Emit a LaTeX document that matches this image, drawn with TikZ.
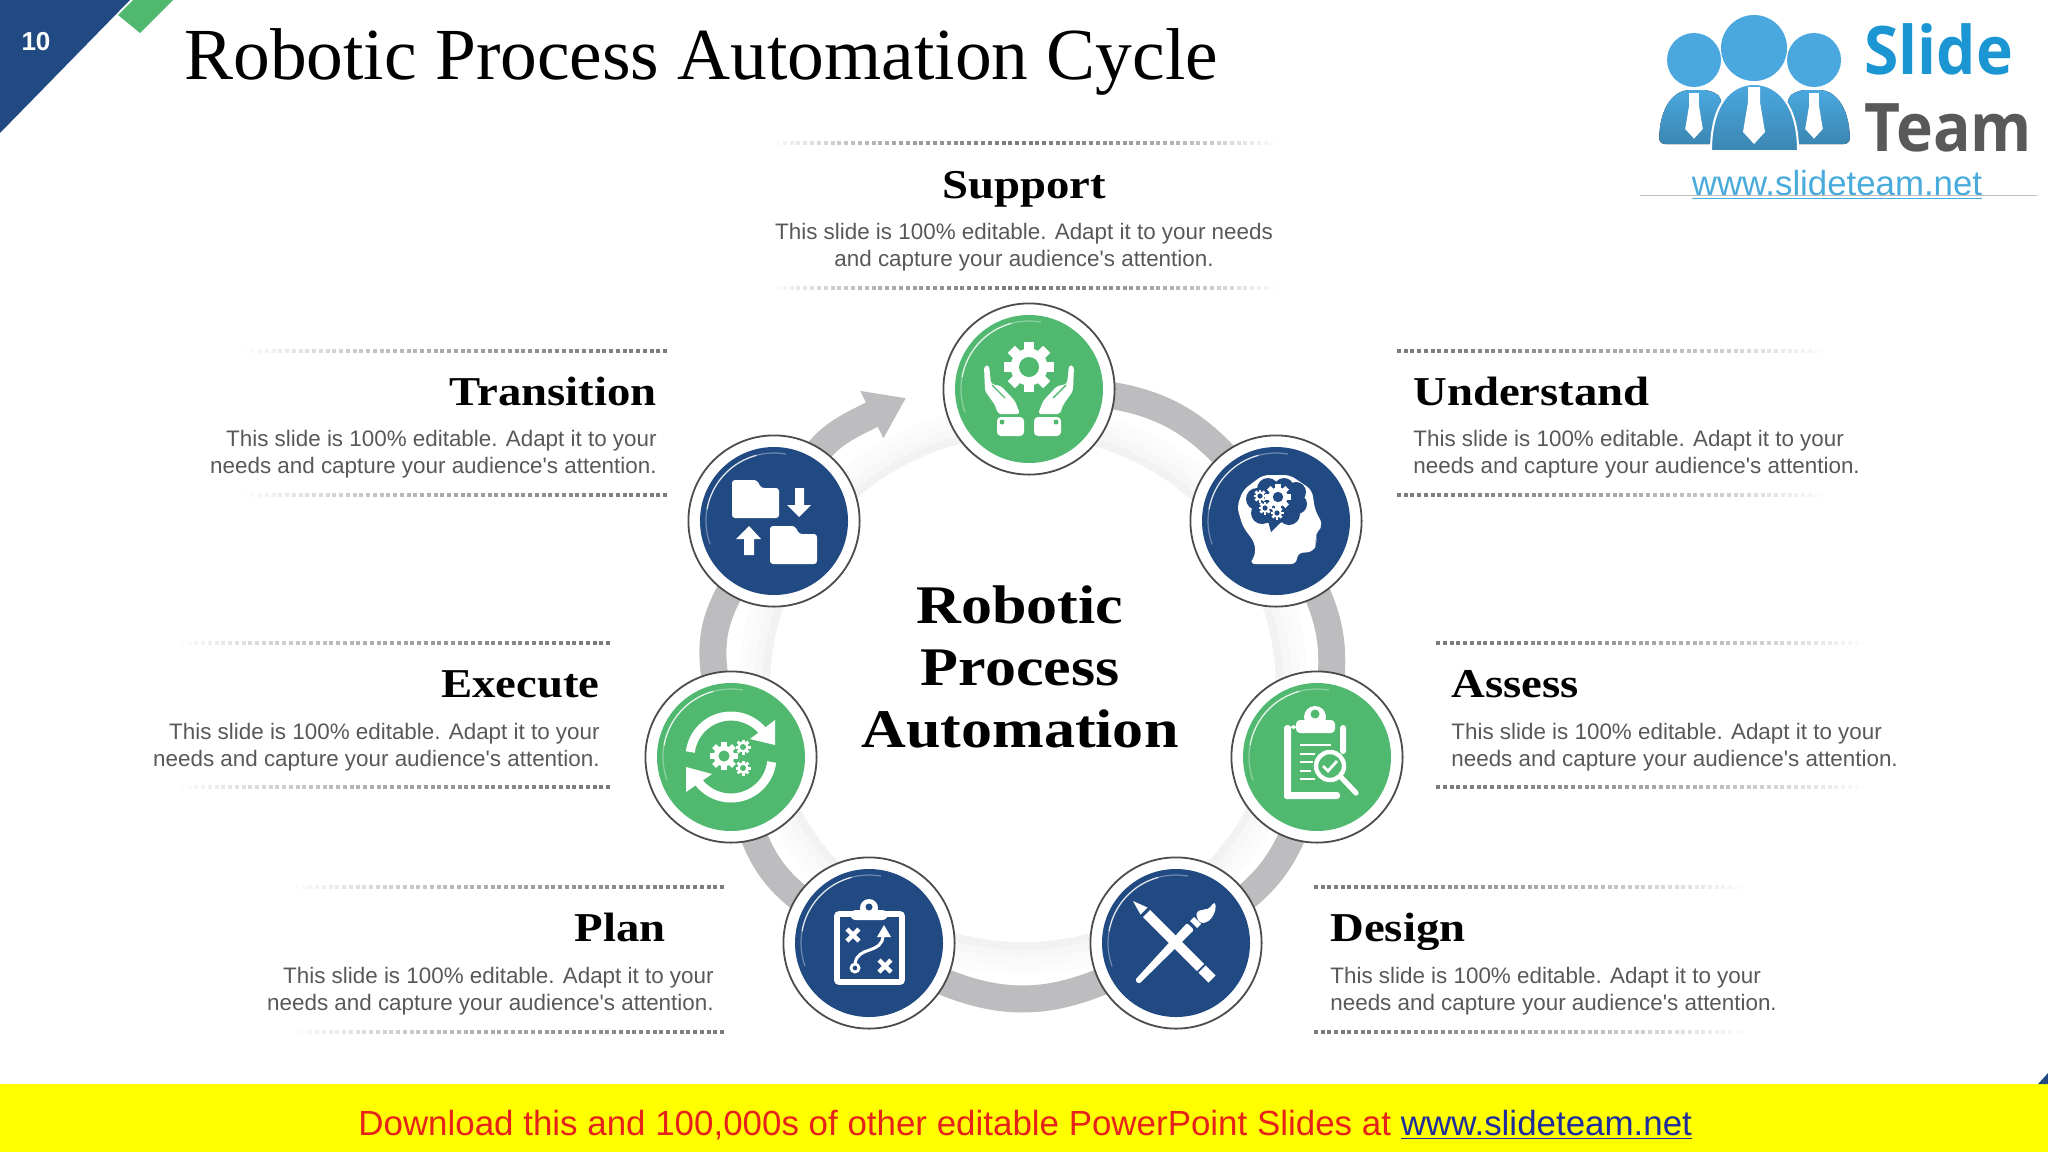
\documentclass[tikz,border=0pt]{standalone}
\usepackage{fontspec}
\setmainfont{Liberation Sans}
\newfontfamily\titlefont{Liberation Serif}
\newfontfamily\headfont[FakeStretch=1.14]{Liberation Serif}
\newfontfamily\logofont[FakeStretch=0.93]{Open Sans}
\usetikzlibrary{arrows.meta,backgrounds}
\definecolor{discgreen}{HTML}{50B96F}
\definecolor{discblue}{HTML}{224A82}
\definecolor{ringgray}{HTML}{BDBDBF}
\definecolor{dotgray}{HTML}{7C7C7C}
\definecolor{blurbgray}{HTML}{58585A}
\definecolor{logoblue}{HTML}{1B96D3}
\definecolor{logosky}{HTML}{4AA8DF}
\definecolor{footyellow}{HTML}{FFFF00}
\tikzset{
  stepnode/.style={circle,draw=black!70,line width=0.9pt,fill=white,minimum size=85.6pt,inner sep=0pt},
  stepdisc/.style={circle,minimum size=74pt,inner sep=0pt},
  ringline/.style={draw=ringgray,line width=13.5pt},
  gloss/.style={draw=white,line width=0.6pt},
  headleft/.style={anchor=base west,font=\headfont\bfseries\fontsize{20.5}{24}\selectfont,inner sep=0pt},
  headright/.style={anchor=base east,font=\headfont\bfseries\fontsize{20.5}{24}\selectfont,inner sep=0pt},
  blurbleft/.style={anchor=north west,align=left,text=blurbgray,font=\fontsize{11.2}{13.6}\selectfont,inner sep=0pt},
  blurbright/.style={anchor=north east,align=right,text=blurbgray,font=\fontsize{11.2}{13.6}\selectfont,inner sep=0pt},
}
\newcommand\blurbtext{This slide is 100\% editable. Adapt it to your\\needs and capture your audience\textquotesingle s attention.}
% one fading dotted rule, dark at #1 and gone at #2
\newcommand\dotrule[3]{%
  \pgfmathsetmacro\dotn{int(abs(#2-#1)/6.67)}
  \foreach \i in {0,...,\dotn}{
    \pgfmathsetmacro\dotx{#1+(#2-#1)*(\i/\dotn)}
    \pgfmathsetmacro\dotp{100*(1-(\i/\dotn)^1.6)}
    \fill[dotgray!\dotp!white] (\dotx-2,#3-2) rectangle (\dotx+2,#3+2);
  }}
\newcommand\gearicon[4]{%
  \begin{scope}[shift={(#1,#2)}]
    \fill[white] (0,0) circle[radius=0.74*#3];
    \foreach \a in {0,45,...,315}
      \fill[white,rotate=\a] (-0.2*#3,-#3) rectangle (0.2*#3,0);
    \fill[#4] (0,0) circle[radius=0.4*#3];
  \end{scope}}
\begin{document}
\begin{tikzpicture}[x=0.5pt,y=-0.5pt]
\useasboundingbox (0,0) rectangle (2048,1152);

% corner tag
\fill[discblue] (0,0) -- (130,0) -- (0,133) -- cycle;
\fill[discgreen] (133,0) -- (118,15) -- (140,33) -- (173,0) -- cycle;
\node[text=white,font=\bfseries\fontsize{13}{15}\selectfont] (pagenum) at (36,42) {10};
\node[anchor=base west,inner sep=0pt,font=\titlefont\fontsize{36.7}{40}\selectfont] (title) at (184,79) {Robotic Process Automation Cycle};

% logo
\fill[logosky] (1754,48) circle[radius=33];
\fill[logosky] (1694,60) circle[radius=27];
\fill[logosky] (1814,60) circle[radius=27];
\fill[top color=logosky,bottom color=logosky!80!black,rounded corners=3pt] (1659,144) .. controls (1660,105) and (1675,90) .. (1696,90) .. controls (1712,90) and (1718,95) .. (1722,100) -- (1722,144) -- cycle;
\fill[top color=logosky,bottom color=logosky!80!black,rounded corners=3pt] (1850,144) .. controls (1849,105) and (1834,90) .. (1813,90) .. controls (1797,90) and (1791,95) .. (1787,100) -- (1787,144) -- cycle;
\path[draw=white,line width=1pt,top color=logosky,bottom color=logosky!80!black] (1711,151) .. controls (1711,105) and (1730,84) .. (1754,84) .. controls (1778,84) and (1798,105) .. (1798,151) -- cycle;
\foreach \tiex/\tiey/\ties in {1694/93/0.8,1814/93/0.8,1754/87/1}
  \fill[white,shift={(\tiex,\tiey)},scale=\ties] (-6,0) -- (6,0) -- (6,15) -- (11,45) -- (0,57) -- (-11,45) -- (-6,15) -- cycle;
\node[anchor=base west,inner sep=0pt,text=logoblue,font=\logofont\bfseries\fontsize{33.5}{36}\selectfont] (logoslide) at (1864,74) {Slide};
\node[anchor=base west,inner sep=0pt,text=black!65,font=\logofont\bfseries\fontsize{33.5}{36}\selectfont] (logoteam) at (1864,151) {Team};
\node[anchor=base,inner sep=0pt,text=logoblue!80!white,font=\fontsize{17.4}{19}\selectfont] (logourl) at (1837,195) {\underline{www.slideteam.net}};
\draw[black!25,line width=0.4pt] (1640,195.5) -- (2037,195.5);

% steps
\foreach \nm/\px/\py/\col in {support/1029/389/discgreen,understand/1276/521/discblue,assess/1317/757/discgreen,
    design/1176/943/discblue,plan/869/943/discblue,execute/731/757/discgreen,transition/774/521/discblue}{
  \node[stepnode] (\nm) at (\px,\py) {};
  \node[stepdisc,fill=\col] (\nm disc) at (\nm.center) {};
  \path[gloss,opacity=0.35] (\nm.center) ++(160:68) arc[start angle=160,end angle=280,radius=68];
  \path[gloss,opacity=0.8] (\nm.center) ++(190:68) arc[start angle=190,end angle=255,radius=68];
}

\begin{scope}[on background layer]
  \foreach \rr/\gg in {285/1,277/2,269/3,261/5,253/0}
    \fill[black!\gg] (1023,689) circle[radius=\rr];
  \foreach \a/\b/\bnd/\lse in {support/understand/27/1.2,understand/assess/23/1.22,assess/design/23/1.22,
      design/plan/31/1.21,plan/execute/23/1.3,execute/transition/23/1.4}
    \path[ringline] (\a.center) to[bend left=\bnd,looseness=\lse] (\b.center);
  \coordinate (arrowtip) at (906,398);
  \path[ringline,-{Triangle[length=19pt,width=25pt]}] (transition.center) to[bend left=17,looseness=1.3] (arrowtip);
\end{scope}

% support icon
\begin{scope}[shift={(support.center)}]
  \gearicon{0}{-22}{25}{discgreen}
  \foreach \sx in {1,-1}{
    \begin{scope}[xscale=\sx]
      \fill[white,rounded corners=1.5pt] (-45,-23) -- (-40,-24) -- (-38,-5) -- (-28,-3) -- (-14,12) -- (-9,25) -- (-31,25) -- (-34,16) -- (-44,2) -- cycle;
      \draw[discgreen,line width=0.7pt] (-37,-4) -- (-24,9);
      \fill[white,rounded corners=2pt] (-32,28) rectangle (-5,47);
      \fill[discgreen] (-27,33) circle[radius=2.5];
    \end{scope}}
\end{scope}

% understand icon
\begin{scope}[shift={(understand.center)}]
  \fill[white,rounded corners=3pt] (-27,43) -- (-21,36) -- (-21,22) -- (-33,6) -- (-39,-14) -- (-33,-31) -- (-13,-46) -- (14,-46) -- (36,-31) -- (39,-11) -- (47,4) -- (41,11) -- (39,16) -- (41,22) -- (37,31) -- (21,32) -- (21,43) -- cycle;
  \foreach \bx/\by/\br in {-19/-22/11,-8/-32/11,8/-33/10,20/-29/10,21/-17/10,13/-7/11,-2/-15/18,-14/-8/11}
    \fill[discblue] (\bx,\by) circle[radius=\br];
  \fill[discblue] (-8,0) -- (6,0) -- (-5,11) -- cycle;
  \gearicon{2}{-24}{13}{discblue}
  \gearicon{-16}{-25}{6.5}{discblue}
  \gearicon{-11}{-13}{6.5}{discblue}
  \gearicon{1}{-8}{6.5}{discblue}
\end{scope}

% assess icon
\begin{scope}[shift={(assess.center)}]
  \fill[white,rounded corners=1.5pt] (-33,-32) rectangle (-26,42);
  \fill[white,rounded corners=1.5pt] (-33,35) rectangle (23,42);
  \fill[white,rounded corners=1.5pt] (23,-32) rectangle (29,-3);
  \fill[white,rounded corners=1.5pt] (-26,-32) rectangle (-21,-28);
  \fill[white,rounded corners=2pt] (-21,-37) rectangle (18,-24);
  \fill[white] (-2,-40) circle[radius=11];
  \fill[discgreen] (-2,-43) circle[radius=4.5];
  \foreach \lx/\ly in {14/-12,-2/-3,-4/5,-6/14,-2/22}
    \draw[white,line width=0.9pt] (-17,\ly) -- (\lx,\ly);
  \draw[white,line width=2.6pt,line cap=round] (22,18) -- (39,36);
  \draw[white,line width=2.2pt,fill=discgreen] (13,9) circle[radius=14];
  \draw[white,line width=1.4pt] (6,9) -- (11,14) -- (20,4);
\end{scope}

% design icon
\begin{scope}[shift={(design.center)}]
  \fill[white] (-43,-42) -- (-28.5,-35.5) -- (-35.5,-28.5) -- cycle;
  \fill[white] (-26,-33) -- (-33,-26) -- (21,28) -- (28,21) -- cycle;
  \draw[white,line width=5pt] (26,26) -- (36,36);
  \fill[white,rounded corners=1pt] (-41,37) -- (-37,41) -- (18,-13) -- (11,-20) -- cycle;
  \fill[white] (14,-22) -- (21,-15) -- (25,-19) -- (18,-26) -- cycle;
  \fill[white,rounded corners=2pt] (19,-30) -- (26,-34) -- (32,-33) -- (39,-42) -- (40,-33) -- (34,-22) -- (24,-19) -- cycle;
\end{scope}

% plan icon
\begin{scope}[shift={(plan.center)}]
  \draw[white,line width=2.8pt,rounded corners=1pt] (-32,-29) rectangle (33,39);
  \fill[white,rounded corners=3pt] (-19,-33) rectangle (19,-23);
  \fill[white] (0,-35) circle[radius=9];
  \fill[discblue] (0,-36) circle[radius=3.5];
  \foreach \cx/\cy in {-16/-8,16/23}{
    \draw[white,line width=2.2pt] (\cx-6,\cy-6) -- (\cx+6,\cy+6);
    \draw[white,line width=2.2pt] (\cx-6,\cy+6) -- (\cx+6,\cy-6);}
  \draw[white,line width=1.4pt] (-14,25) circle[radius=4];
  \draw[white,line width=1.5pt] (-14,21) .. controls (-12,2) and (14,12) .. (14,-8);
  \fill[white] (15,-18) -- (22,-6) -- (8,-6) -- cycle;
\end{scope}

% execute icon
\begin{scope}[shift={(execute.center)}]
  \gearicon{-7}{-1}{14}{discgreen}
  \gearicon{12}{-10}{7.5}{discgreen}
  \gearicon{12}{11}{7.5}{discgreen}
  \draw[white,line width=4.5pt] (0,0) ++(187:41) arc[start angle=187,end angle=322,radius=41];
  \fill[white] (44,-37) -- (44,-12) -- (19,-18) -- cycle;
  \draw[white,line width=4.5pt] (0,0) ++(7:41) arc[start angle=7,end angle=142,radius=41];
  \fill[white] (-45,10) -- (-45,35) -- (-19,17) -- cycle;
\end{scope}

% transition icon
\begin{scope}[shift={(transition.center)}]
  \foreach \fx/\fy in {-42/-41,-4/5}
    \fill[white,shift={(\fx,\fy)},rounded corners=1.5pt] (0,0) -- (25,0) -- (29,8) -- (47,8) -- (47,38) -- (0,38) -- cycle;
  \fill[white] (21,-33) -- (30,-33) -- (30,-16) -- (37,-16) -- (25,-4) -- (13,-16) -- (21,-16) -- cycle;
  \fill[white] (-25,5) -- (-13,18) -- (-20,18) -- (-20,34) -- (-30,34) -- (-30,18) -- (-38,18) -- cycle;
\end{scope}

% centre label
\node[align=center,inner sep=0pt,font=\headfont\bfseries\fontsize{27.2}{30.8}\selectfont] (centre) at (1020,667) {Robotic\\Process\\Automation};

% support
\dotrule{1024}{771}{143}
\dotrule{1024}{1279}{143}
\dotrule{1024}{771}{288}
\dotrule{1024}{1279}{288}
\node[anchor=base,inner sep=0pt,font=\headfont\bfseries\fontsize{20.5}{24}\selectfont] (supporthead) at (1024,198) {Support};
\node[anchor=north,align=center,text=blurbgray,inner sep=0pt,font=\fontsize{11.2}{13.6}\selectfont] (supporttext) at (1024,222.5) {This slide is 100\% editable. Adapt it to your needs\\and capture your audience\textquotesingle s attention.};

% right hand side
\dotrule{1399}{1830}{351}
\dotrule{1399}{1830}{495}
\node[headleft] (understandhead) at (1413,405) {Understand};
\node[blurbleft] (understandtext) at (1413,429.5) {\blurbtext};
\dotrule{1438}{1870}{643}
\dotrule{1438}{1870}{787}
\node[headleft] (assesshead) at (1451,697) {Assess};
\node[blurbleft] (assesstext) at (1451,722.5) {\blurbtext};
\dotrule{1316}{1750}{887}
\dotrule{1316}{1750}{1032}
\node[headleft] (designhead) at (1330,941) {Design};
\node[blurbleft] (designtext) at (1330,966.5) {\blurbtext};

% left hand side
\dotrule{665}{240}{351}
\dotrule{665}{240}{495}
\node[headright] (transitionhead) at (657,405) {Transition};
\node[blurbright] (transitiontext) at (657,429.5) {\blurbtext};
\dotrule{608}{176}{643}
\dotrule{608}{176}{787}
\node[headright] (executehead) at (600,697) {Execute};
\node[blurbright] (executetext) at (600,722.5) {\blurbtext};
\dotrule{722}{290}{887}
\dotrule{722}{290}{1032}
\node[headright] (planhead) at (666,941) {Plan};
\node[blurbright] (plantext) at (714,966.5) {\blurbtext};

% footer
\fill[footyellow] (0,1084) rectangle (2048,1152);
\fill[discblue] (2038,1084) -- (2048,1073) -- (2048,1084) -- cycle;
\node[anchor=base west,inner sep=0pt,font=\fontsize{17.46}{20}\selectfont] (footer) at (358,1135) {\textcolor[HTML]{E6231B}{Download this and 100,000s of other editable PowerPoint Slides at} \textcolor[HTML]{1F2D9C}{\underline{www.slideteam.net}}};
\end{tikzpicture}
\end{document}
